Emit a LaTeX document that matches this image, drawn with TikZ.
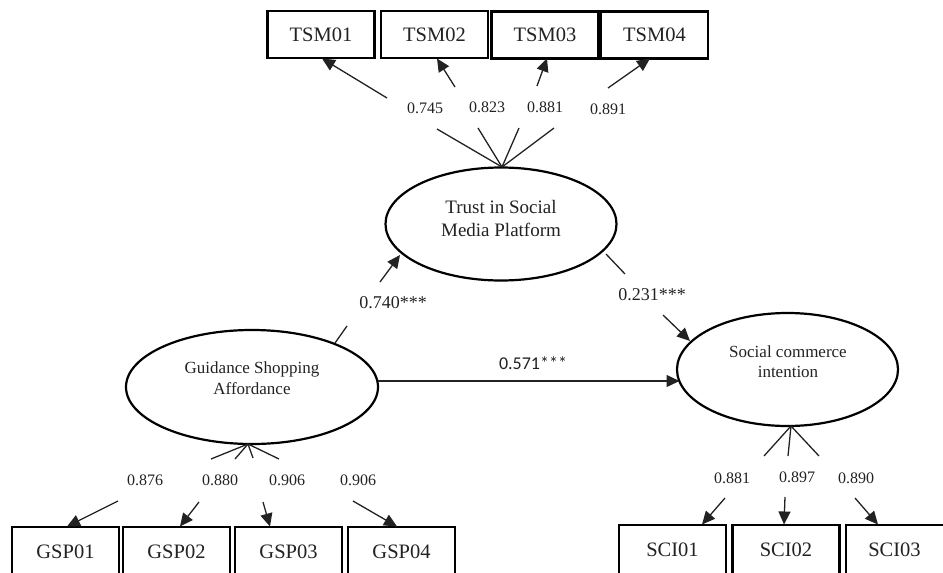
\documentclass[tikz,border=0pt]{standalone}
\usepackage{fontspec}
\setmainfont{Liberation Serif}
\newfontfamily\lblsans{Carlito}
\usetikzlibrary{arrows.meta,shapes.geometric}
\definecolor{ink}{HTML}{222222}
\tikzset{
  ind/.style={draw=black,line width=2.2pt,minimum width=107pt,minimum height=47pt,inner sep=0pt,font=\fontsize{20.5}{22}\selectfont,text=ink},
  lat/.style={draw=black,ellipse,line width=2.2pt,inner sep=0pt},
  lattext/.style={align=center,text=ink},
  conn/.style={draw=ink,line width=1.3pt},
  arr/.style={conn,-{Triangle[length=13pt,width=12pt]}},
  load/.style={font=\fontsize{16}{18}\selectfont,text=ink},
  path/.style={font=\fontsize{18}{20}\selectfont,text=ink}
}
\begin{document}
\begin{tikzpicture}[x=1pt,y=-1pt]
\useasboundingbox (0,0) rectangle (943,573);
% indicator boxes
\node[ind] (tsm1) at (321,34.5) {TSM01};
\node[ind] (tsm2) at (434.5,34.5) {TSM02};
\node[ind] (tsm3) at (545,35) {TSM03};
\node[ind] (tsm4) at (654.5,35) {TSM04};
\node[ind,minimum height=50pt] (gsp1) at (65.5,552) {GSP01};
\node[ind,minimum height=50pt] (gsp2) at (176.5,552) {GSP02};
\node[ind,minimum height=50pt] (gsp3) at (288.5,552) {GSP03};
\node[ind,minimum height=50pt] (gsp4) at (401.5,552) {GSP04};
\node[ind,minimum height=50pt] (sci1) at (672.5,550) {SCI01};
\node[ind,minimum height=50pt] (sci2) at (786,550) {SCI02};
\node[ind,minimum height=50pt,minimum width=109pt] (sci3) at (900.5,550) {\hspace*{-12pt}SCI03};
% latent variables
\node[lat,minimum width=231pt,minimum height=113pt] (trust) at (501,224) {};
\node[lattext,font=\fontsize{19}{23}\selectfont] (trustt) at (501,218.5) {Trust in Social\\Media Platform};
\node[lat,minimum width=252pt,minimum height=114pt] (gsa) at (252,387) {};
\node[lattext,font=\fontsize{17}{21}\selectfont] (gsat) at (252,378.5) {Guidance Shopping\\Affordance};
\node[lat,minimum width=221pt,minimum height=113pt] (sci) at (787.5,369.5) {};
\node[lattext,font=\fontsize{17}{20}\selectfont] (scit) at (788,361.5) {Social commerce\\intention};
% fan points
\coordinate (tF) at (502,167);
\coordinate (gF) at (248,444);
\coordinate (sF) at (791,426);
% TSM loadings
\coordinate (ta1) at (437,129); \coordinate (ta2) at (478,128);
\coordinate (ta3) at (519,128); \coordinate (ta4) at (554,128);
\foreach \i in {1,...,4} \draw[conn] (tF) -- (ta\i);
\coordinate (tb1) at (387,98);  \coordinate (tc1) at (322,58.5);
\coordinate (tb2) at (455,87);  \coordinate (tc2) at (437,58.5);
\coordinate (tb3) at (537,86);  \coordinate (tc3) at (547,58.5);
\coordinate (tb4) at (608,88);  \coordinate (tc4) at (650,58.5);
\foreach \i in {1,...,4} \draw[arr] (tb\i) -- (tc\i);
\node[load] (l1) at (425,108) {0.745};
\node[load] (l2) at (487,107) {0.823};
\node[load] (l3) at (545,107) {0.881};
\node[load] (l4) at (608,109) {0.891};
% GSP loadings
\coordinate (ga1) at (211,459); \coordinate (ga2) at (235,459);
\coordinate (ga3) at (253,458); \coordinate (ga4) at (279,459);
\foreach \i in {1,...,4} \draw[conn] (gF) -- (ga\i);
\coordinate (gb1) at (118,501); \coordinate (gc1) at (67,526.5);
\coordinate (gb2) at (199,502); \coordinate (gc2) at (180,526.5);
\coordinate (gb3) at (263,502); \coordinate (gc3) at (270,526.5);
\coordinate (gb4) at (353,501); \coordinate (gc4) at (397,526.5);
\foreach \i in {1,...,4} \draw[arr] (gb\i) -- (gc\i);
\node[load] (m1) at (145,480) {0.876};
\node[load] (m2) at (220,480) {0.880};
\node[load] (m3) at (287,480) {0.906};
\node[load] (m4) at (358,480) {0.906};
% SCI loadings
\coordinate (sa1) at (764,456); \coordinate (sa2) at (788,456); \coordinate (sa3) at (819,456);
\foreach \i in {1,2,3} \draw[conn] (sF) -- (sa\i);
\coordinate (sb1) at (725,498); \coordinate (sc1) at (702,524.5);
\coordinate (sb2) at (785,497); \coordinate (sc2) at (784,524.5);
\coordinate (sb3) at (855,498); \coordinate (sc3) at (878,524.5);
\foreach \i in {1,2,3} \draw[arr] (sb\i) -- (sc\i);
\node[load] (n1) at (732,478) {0.881};
\node[load] (n2) at (797,477) {0.897};
\node[load] (n3) at (856,478) {0.890};
% structural paths
\coordinate (p1a) at (335,343); \coordinate (p1b) at (347,326);
\coordinate (p1c) at (380,282); \coordinate (p1d) at (400,255);
\draw[conn] (p1a) -- (p1b);
\draw[arr] (p1c) -- (p1d);
\node[path] (pl1) at (393,303) {0.740***};
\coordinate (p2a) at (606,254); \coordinate (p2b) at (625,274);
\coordinate (p2c) at (663,315); \coordinate (p2d) at (690,341);
\draw[conn] (p2a) -- (p2b);
\draw[arr] (p2c) -- (p2d);
\node[path] (pl2) at (652,295) {0.231***};
\coordinate (hs) at (378,381);
\coordinate (he) at (679.5,381);
\draw[arr] (hs) -- (he);
\node[path,font=\lblsans\fontsize{18}{20}\selectfont] (pl3) at (533,363) {0.571***};
\end{tikzpicture}
\end{document}
